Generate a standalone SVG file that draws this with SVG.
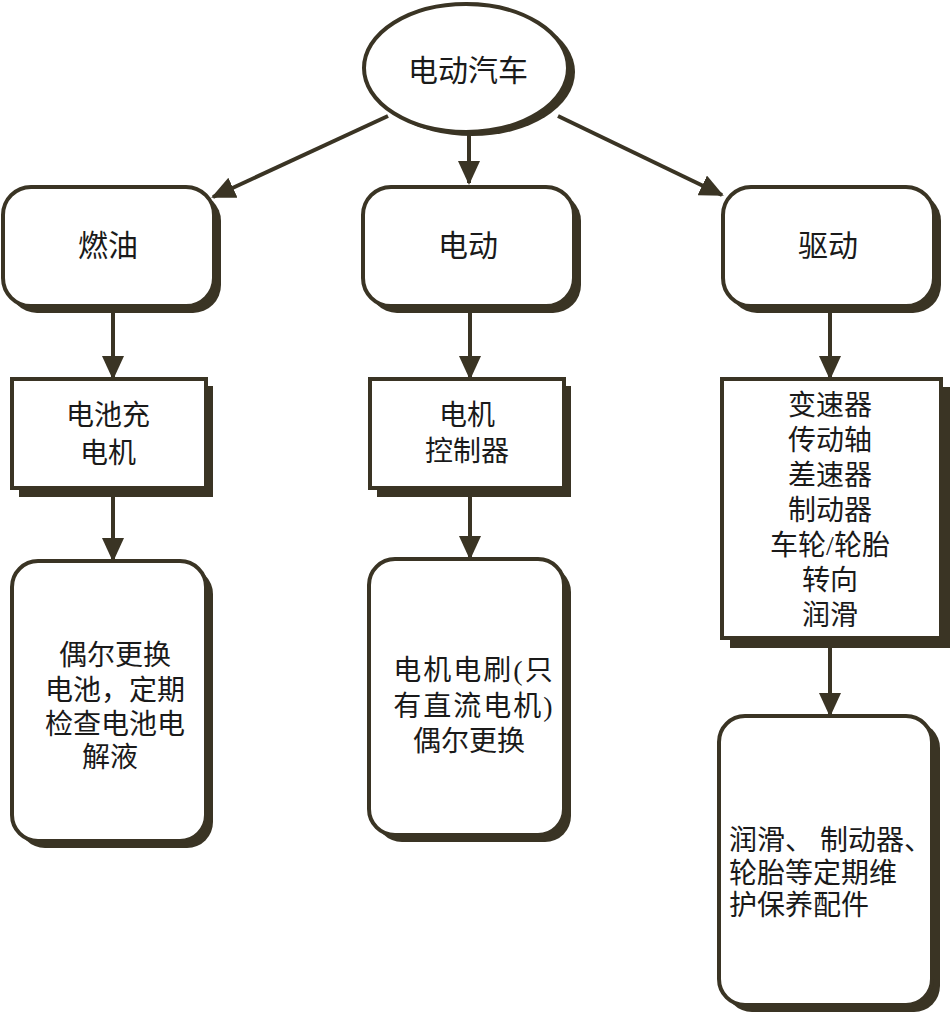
<svg xmlns="http://www.w3.org/2000/svg" width="950" height="1016" viewBox="0 0 950 1016">
<style>
.sh{fill:#3a3424}
.bx{fill:#ffffff;stroke:#3a3424;stroke-width:4}
.t{font-family:"Liberation Serif","Noto Sans CJK SC",serif;font-size:28px;fill:#1a1a1a;text-anchor:middle}
.tb{font-size:30px}
.tl{font-family:"Liberation Serif","Noto Sans CJK SC",serif;font-size:28px;fill:#1a1a1a}
.ln{stroke:#3a3424;stroke-width:4;fill:none;marker-end:url(#ah)}
</style>
<defs>
<marker id="ah" markerUnits="userSpaceOnUse" markerWidth="24" markerHeight="22" refX="22" refY="11" orient="auto">
<path d="M0,0 L24,11 L0,22 Z" fill="#3a3424"/>
</marker>
</defs>
<rect width="950" height="1016" fill="#ffffff"/>
<g id="connectors">
<line class="ln" x1="388" y1="116" x2="213" y2="197"/>
<line class="ln" x1="469" y1="134" x2="469" y2="183"/>
<line class="ln" x1="558" y1="116" x2="722" y2="195"/>
<line class="ln" x1="113" y1="310" x2="113" y2="378"/>
<line class="ln" x1="113" y1="497" x2="113" y2="560"/>
<line class="ln" x1="470" y1="310" x2="470" y2="378"/>
<line class="ln" x1="470" y1="497" x2="470" y2="558"/>
<line class="ln" x1="830" y1="310" x2="830" y2="378"/>
<line class="ln" x1="830" y1="648" x2="830" y2="715"/>
</g>
<g id="n0">
<ellipse class="sh" cx="472" cy="72" rx="103" ry="64"/>
<ellipse class="bx" cx="466" cy="68" rx="102" ry="64"/>
<text class="t tb" x="468" y="81">电动汽车</text>
</g>
<g id="n1">
<rect class="sh" x="9" y="193" width="212" height="120" rx="28"/>
<rect class="bx" x="3" y="187" width="211" height="119" rx="28"/>
<text class="t tb" x="108" y="256">燃油</text>
</g>
<g id="n2">
<rect class="sh" x="369" y="193" width="212" height="120" rx="28"/>
<rect class="bx" x="363" y="187" width="211" height="119" rx="28"/>
<text class="t tb" x="468" y="256">电动</text>
</g>
<g id="n3">
<rect class="sh" x="729" y="193" width="212" height="120" rx="28"/>
<rect class="bx" x="723" y="187" width="211" height="119" rx="28"/>
<text class="t tb" x="828" y="256">驱动</text>
</g>
<g id="n4">
<rect class="sh" x="19" y="386" width="194" height="111"/>
<rect class="bx" x="12" y="379" width="194" height="109"/>
<text class="t" x="108" y="425">电池充</text>
<text class="t" x="108" y="463">电机</text>
</g>
<g id="n5">
<rect class="sh" x="377" y="386" width="194" height="111"/>
<rect class="bx" x="370" y="379" width="194" height="109"/>
<text class="t" x="467" y="425">电机</text>
<text class="t" x="467" y="461">控制器</text>
</g>
<g id="n6">
<rect class="sh" x="730" y="387" width="220" height="261"/>
<rect class="bx" x="722" y="379" width="219" height="259"/>
<text class="t" x="830" y="415">变速器</text>
<text class="t" x="830" y="450">传动轴</text>
<text class="t" x="830" y="485">差速器</text>
<text class="t" x="830" y="520">制动器</text>
<text class="t" x="830" y="555">车轮/轮胎</text>
<text class="t" x="830" y="590">转向</text>
<text class="t" x="830" y="625">润滑</text>
</g>
<g id="n7">
<rect class="sh" x="19" y="568" width="194" height="280" rx="26"/>
<rect class="bx" x="12" y="561" width="194" height="280" rx="26"/>
<text class="t" x="115" y="665">偶尔更换</text>
<text class="t" x="115" y="700">电池，定期</text>
<text class="t" x="115" y="734">检查电池电</text>
<text class="t" x="110" y="767">解液</text>
</g>
<g id="n8">
<rect class="sh" x="376" y="566" width="195" height="276" rx="26"/>
<rect class="bx" x="369" y="559" width="195" height="276" rx="26"/>
<text class="t" x="474" y="680" letter-spacing="2">电机电刷(只</text>
<text class="t" x="474" y="716" letter-spacing="2">有直流电机)</text>
<text class="t" x="469" y="751">偶尔更换</text>
</g>
<g id="n9">
<rect class="sh" x="726" y="722" width="214" height="290" rx="26"/>
<rect class="bx" x="719" y="716" width="213" height="289" rx="26"/>
<text class="tl" x="729" y="850">润滑、 制动器、</text>
<text class="tl" x="729" y="883">轮胎等定期维</text>
<text class="tl" x="729" y="915">护保养配件</text>
</g>
</svg>
